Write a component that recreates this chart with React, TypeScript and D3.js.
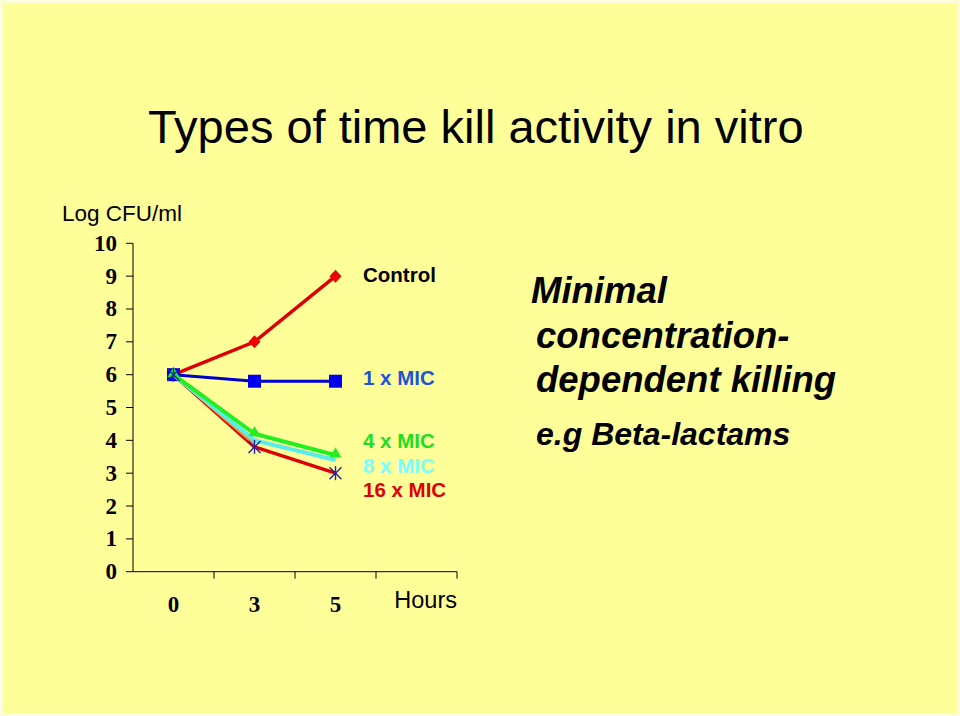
import React from "react";
import * as d3 from "d3";

const hours = ["0", "3", "5"];
const bandCats = ["0", "3", "5", ""];
const yTicks = [0, 1, 2, 3, 4, 5, 6, 7, 8, 9, 10];
const controlVals = [6, 7, 9];
const mic1Vals = [6, 5.8, 5.8];
const mic4Vals = [6, 4.2, 3.55];
const mic8Vals = [6, 4.0, 3.4];
const mic16Vals = [6, 3.8, 3.0];
const orangeVals = [6, 3.9];
const legendLabels = ["Control", "1 x MIC", "4 x MIC", "8 x MIC", "16 x MIC"];
const legendValues = [9.04, 5.9, 3.97, 3.23, 2.5];
const legendColors = ["#000000", "#1b55d6", "#22dd22", "#77ffff", "#dd0000"];
const sideText = ["Minimal", "concentration-", "dependent killing"];

export default function App() {
  const W = 960, H = 716;
  const x = d3.scaleBand<string>().domain(bandCats).range([133, 457]).padding(0);
  const y = d3.scaleLinear().domain([0, 10]).range([571.7, 243.3]);
  const cx = (i: number) => (x(hours[i]) as number) + x.bandwidth() / 2;
  const line = d3.line<number>().x((_, i) => cx(i)).y((d) => y(d));
  const sym = (type: d3.SymbolType, size: number) => d3.symbol().type(type).size(size)() as string;

  const serif = "'Liberation Serif', 'Times New Roman', serif";
  const sans = "'Liberation Sans', Arial, sans-serif";

  return (
    <svg width={W} height={H} style={{ position: "fixed", left: 0, top: 0 }}>
      <rect x={0} y={0} width={W} height={H} fill="#fdfdde" />
      <rect x={3} y={3} width={W - 6} height={H - 6} fill="#ffff99" />

      <text x={148} y={143} fontFamily={sans} fontSize={47} fill="#000">
        Types of time kill activity in vitro
      </text>

      <text x={62} y={220.5} fontFamily={sans} fontSize={22.5} fill="#000">Log CFU/ml</text>

      {/* y axis */}
      <line x1={133} x2={133} y1={y(10)} y2={y(0)} stroke="#000" strokeWidth={1} />
      {yTicks.map((t) => (
        <g key={t}>
          <line x1={126} x2={133} y1={y(t)} y2={y(t)} stroke="#000" strokeWidth={1} />
          <text x={117} y={y(t) + 7.5} textAnchor="end" fontFamily={serif} fontWeight="bold" fontSize={23} fill="#000">
            {t}
          </text>
        </g>
      ))}

      {/* x axis */}
      <line x1={133} x2={457} y1={y(0)} y2={y(0)} stroke="#000" strokeWidth={1} />
      {bandCats.map((c, i) => (
        <line key={i} x1={(x(c) as number) + x.bandwidth()} x2={(x(c) as number) + x.bandwidth()} y1={y(0)} y2={y(0) + 7} stroke="#000" strokeWidth={1} />
      ))}
      {hours.map((h, i) => (
        <text key={h} x={cx(i)} y={612} textAnchor="middle" fontFamily={serif} fontWeight="bold" fontSize={23} fill="#000">
          {h}
        </text>
      ))}
      <text x={457} y={608} textAnchor="end" fontFamily={sans} fontSize={23.5} fill="#000">Hours</text>

      {/* series */}
      <path d={line(controlVals) as string} fill="none" stroke="#dd0000" strokeWidth={3.5} />
      {controlVals.map((v, i) => (
        <path key={"c" + i} d="M0,-6.5L6,0L0,6.5L-6,0Z" transform={`translate(${cx(i)},${y(v)})`} fill="#ee0000" />
      ))}

      <path d={line(mic1Vals) as string} fill="none" stroke="#0000cc" strokeWidth={3} />
      {mic1Vals.map((v, i) => (
        <rect key={"b" + i} x={cx(i) - 6.5} y={y(v) - 6.5} width={13} height={13} fill="#0000ee" />
      ))}

      <path d={line(mic16Vals) as string} fill="none" stroke="#dd0000" strokeWidth={3.5} />
      <path d={line(orangeVals) as string} fill="none" stroke="#ee9922" strokeWidth={3.5} />
      <path d={line(mic8Vals) as string} fill="none" stroke="#55eeee" strokeWidth={4} />
      <path d={line(mic4Vals) as string} fill="none" stroke="#22ee22" strokeWidth={4} />
      {mic4Vals.map((v, i) => (
        <path key={"g" + i} d={sym(d3.symbolTriangle, 60)} transform={`translate(${cx(i)},${y(v) - 1})`} fill="#22ee22" />
      ))}
      {mic16Vals.map((v, i) => (
        <g key={"s" + i} transform={`translate(${cx(i)},${y(v)})`} stroke="#2a1fa8" strokeWidth={1.4}>
          <line x1={-6} y1={-6} x2={6} y2={6} />
          <line x1={-6} y1={6} x2={6} y2={-6} />
          <line x1={0} y1={-7} x2={0} y2={7} />
        </g>
      ))}

      {/* legend labels */}
      {legendLabels.map((l, i) => (
        <text key={l} x={363} y={y(legendValues[i]) + 7} fontFamily={sans} fontWeight="bold" fontSize={20.5} fill={legendColors[i]}>
          {l}
        </text>
      ))}

      {/* side text */}
      {sideText.map((s, i) => (
        <text key={s} x={i === 0 ? 531 : 536} y={303 + i * 44.5} fontFamily={sans} fontWeight="bold" fontStyle="italic" fontSize={36.5} fill="#000">
          {s}
        </text>
      ))}
      <text x={536} y={445} fontFamily={sans} fontWeight="bold" fontStyle="italic" fontSize={32} fill="#000">
        e.g Beta-lactams
      </text>
    </svg>
  );
}
